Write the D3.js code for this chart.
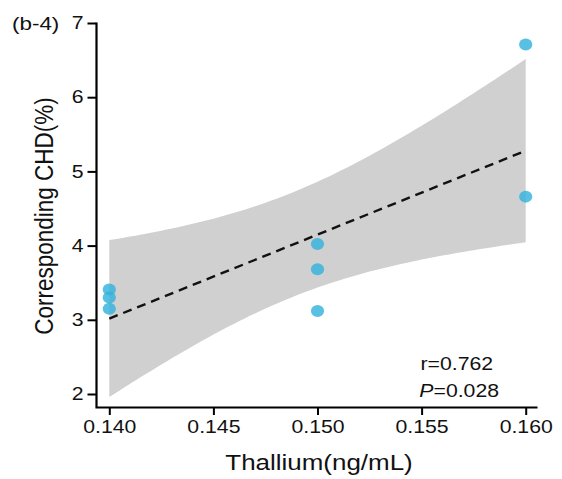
<!DOCTYPE html>
<html>
<head>
<meta charset="utf-8">
<script src="https://cdn.jsdelivr.net/npm/d3@7"></script>
<style>
  body { margin: 0; background: #fff; }
  text { font-family: "Liberation Sans", Arial, sans-serif; }
</style>
</head>
<body>
<div class="canvas"></div>
<script>
// data
const thallium = [0.140, 0.140, 0.140, 0.150, 0.150, 0.150, 0.160, 0.160];
const chd = [3.41, 3.30, 3.15, 4.02, 3.68, 3.12, 6.71, 4.66];
const xTicks = [0.140, 0.145, 0.150, 0.155, 0.160];
const yTicks = [2, 3, 4, 5, 6, 7];
const statLines = ["r=0.762", "P=0.028"];

const width = 562, height = 479;
const sx = 1.18 // the original picture is stretched sideways

const svg = d3.select('.canvas').append('svg')
    .attr('width', width)
    .attr('height', height)

const x = d3.scaleLinear().domain([0.14, 0.16]).range([109.3, 525.7])
const y = d3.scaleLinear().domain([2, 7]).range([394, 23])

// linear fit with 95% confidence band (like geom_smooth)
const n = thallium.length
const mx = d3.mean(thallium), my = d3.mean(chd)
const sxx = d3.sum(thallium, (d) => (d - mx) ** 2)
const sxy = d3.sum(thallium, (d, i) => (d - mx) * (chd[i] - my))
const slope = sxy / sxx
const icpt = my - slope * mx
const sse = d3.sum(thallium, (d, i) => (chd[i] - (icpt + slope * d)) ** 2)
const s = Math.sqrt(sse / (n - 2))
const tCrit = 2.447 // t(0.975, df=6)

const grid = d3.range(0, 81).map((i) => 0.14 + i * 0.02 / 80)
const band = grid.map((xv) => {
    const fit = icpt + slope * xv
    const hw = tCrit * s * Math.sqrt(1 / n + (xv - mx) ** 2 / sxx)
    return { x: xv, lo: fit - hw, hi: fit + hw, fit }
})

svg.append('path')
    .datum(band)
    .attr('fill', '#d0d0d0')
    .attr('d', d3.area().x((d) => x(d.x)).y0((d) => y(d.lo)).y1((d) => y(d.hi)))

svg.append('path')
    .datum([band[0], band[band.length - 1]])
    .attr('fill', 'none')
    .attr('stroke', '#111')
    .attr('stroke-width', 2.4)
    .attr('stroke-dasharray', '9,6')
    .attr('d', d3.line().x((d) => x(d.x)).y((d) => y(d.fit)))

// points
svg.selectAll('ellipse.pt')
    .data(thallium)
    .enter()
    .append('ellipse')
    .attr('class', 'pt')
    .attr('cx', (d) => x(d))
    .attr('cy', (d, i) => y(chd[i]))
    .attr('rx', 6.6)
    .attr('ry', 6)
    .attr('fill', '#33b2dc')
    .attr('fill-opacity', 0.82)

// axes
const xAxis = d3.axisBottom(x).tickValues(xTicks).tickFormat(d3.format('.3f')).tickSize(8).tickPadding(5)
const yAxis = d3.axisLeft(y).tickValues(yTicks).tickFormat(d3.format('d')).tickSize(9).tickPadding(4)

const xg = svg.append('g').attr('transform', 'translate(0,407)').call(xAxis)
const yg = svg.append('g').attr('transform', 'translate(96.5,0)').call(yAxis)

xg.select('.domain').remove()
yg.select('.domain').remove()
svg.selectAll('.tick line').attr('stroke', '#000').attr('stroke-width', 2)
svg.selectAll('.tick text').attr('font-size', 18).attr('fill', '#111')
    .style('font-family', '"Liberation Sans", Arial, sans-serif')
xg.selectAll('.tick text').attr('transform', `scale(${sx},1)`)
yg.selectAll('.tick text').attr('transform', `translate(-13,0) scale(${sx},1) translate(13,0)`)

svg.append('path')
    .attr('d', 'M96.5,22.5V407.5H537.5')
    .attr('fill', 'none')
    .attr('stroke', '#000')
    .attr('stroke-width', 2.2)

// labels
svg.append('text')
    .attr('transform', `translate(319,470) scale(${sx},1)`)
    .attr('text-anchor', 'middle')
    .attr('font-size', 22)
    .attr('fill', '#111')
    .text('Thallium(ng/mL)')

svg.append('text')
    .attr('transform', `translate(53,216) scale(${sx},1) rotate(-90)`)
    .attr('text-anchor', 'middle')
    .attr('font-size', 22.5)
    .attr('fill', '#111')
    .text('Corresponding CHD(%)')

svg.append('text')
    .attr('transform', `translate(12,30) scale(${sx},1)`)
    .attr('font-size', 19)
    .attr('fill', '#111')
    .text('(b-4)')

const st = svg.append('text')
    .attr('transform', `translate(458,0) scale(${sx},1)`)
    .attr('font-size', 18)
    .attr('fill', '#111')
    .attr('text-anchor', 'middle')
st.append('tspan').attr('x', -1).attr('y', 370).text(statLines[0])
const p2 = st.append('tspan').attr('x', 1).attr('y', 397)
p2.append('tspan').attr('font-style', 'italic').text(statLines[1].slice(0, 1))
p2.append('tspan').text(statLines[1].slice(1))
</script>
</body>
</html>
